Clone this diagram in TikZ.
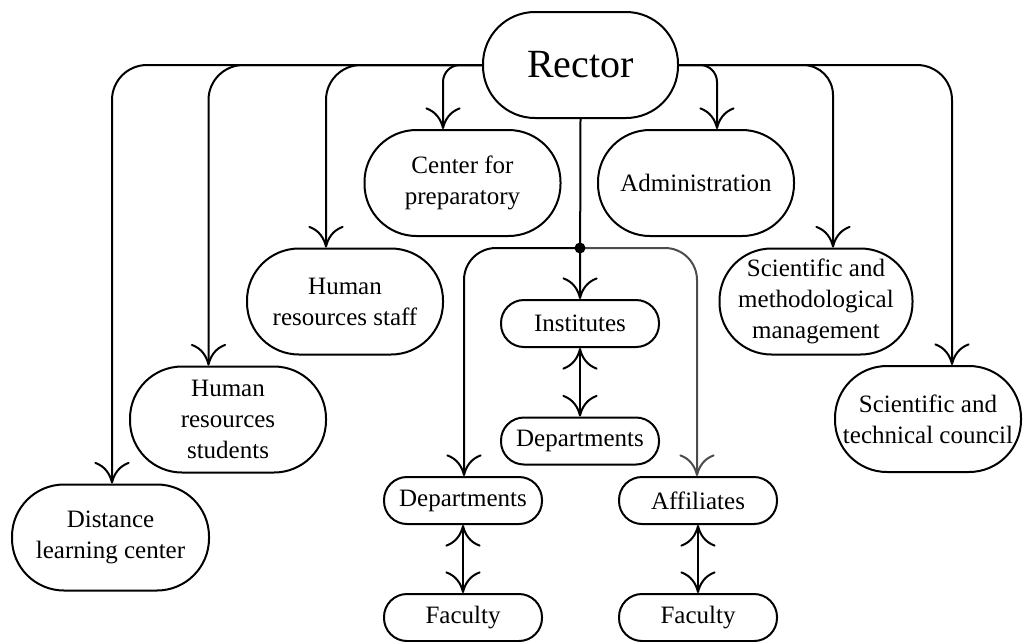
\documentclass[tikz,border=0pt]{standalone}
\usepackage{fontspec}
\setmainfont{Liberation Serif}
\usetikzlibrary{arrows.meta}
\begin{document}
\begin{tikzpicture}[x=1pt,y=-1pt,
  line width=2pt,
  box/.style={draw, align=center, inner sep=0pt, font=\fontsize{25}{31}\selectfont},
  bigbox/.style={box, minimum width=196pt, minimum height=106pt, rounded corners=52pt},
  smallbox/.style={box, minimum width=158pt, minimum height=47pt, rounded corners=23pt},
  tip/.tip={To[scale length=3.6, scale width=2.8]},
  arr/.style={-tip},
  darr/.style={tip-tip},
]
\useasboundingbox (0,0) rectangle (1023,641);

\node[box, minimum width=195pt, minimum height=106pt, rounded corners=52pt, font=\fontsize{40}{48}\selectfont] (R) at (580.5,65) {Rector};
\node[bigbox] (CP) at (462.5,183) {Center for\\preparatory};
\node[bigbox] (AD) at (696,183) {Administration};
\node[bigbox] (HS) at (345,301.5) {Human\\resources staff};
\node[bigbox, minimum width=193pt] (SM) at (816,301.5) {Scientific and\\methodological\\management};
\node[bigbox] (HT) at (228,419.5) {Human\\resources\\students};
\node[bigbox, minimum width=186pt] (ST) at (928,419) {Scientific and\\technical council};
\node[bigbox, minimum width=197pt] (DL) at (110.5,537.5) {Distance\\learning center};
\node[smallbox] (IN) at (580,323.5) {Institutes};
\node[smallbox] (DM) at (580,441) {Departments};
\node[smallbox] (DP) at (463,500.5) {Departments};
\node[smallbox] (AF) at (698,500.5) {Affiliates};
\node[smallbox] (F1) at (463,617.5) {Faculty};
\node[smallbox] (F2) at (698,617.5) {Faculty};

\draw[arr, rounded corners=35pt] (R.west) -| ([xshift=1.5pt]DL.north);
\draw[arr, rounded corners=35pt] (R.west) -| ([xshift=-19.5pt]HT.north);
\draw[arr, rounded corners=35pt] (R.west) -| ([xshift=-19pt]HS.north);
\draw[arr, rounded corners=17pt] (R.west) -| ([xshift=-19.5pt]CP.north);
\draw[arr, rounded corners=17pt] (R.east) -| ([xshift=21pt]AD.north);
\draw[arr, rounded corners=30pt] (R.east) -| ([xshift=17pt]SM.north);
\draw[arr, rounded corners=35pt] (R.east) -| ([xshift=24pt]ST.north);

\coordinate (J) at (580,248);
\draw[arr] (R.south) -- (IN.north);
\draw[arr, rounded corners=32pt] (J) -| ([xshift=1pt]DP.north);
\draw[arr, black!70, rounded corners=32pt] (J) -| ([xshift=-1pt]AF.north);
\fill (J) circle (5.5pt);
\draw[darr] (IN.south) -- (DM.north);
\draw[darr] (DP.south) -- (F1.north);
\draw[darr] (AF.south) -- (F2.north);
\end{tikzpicture}
\end{document}
